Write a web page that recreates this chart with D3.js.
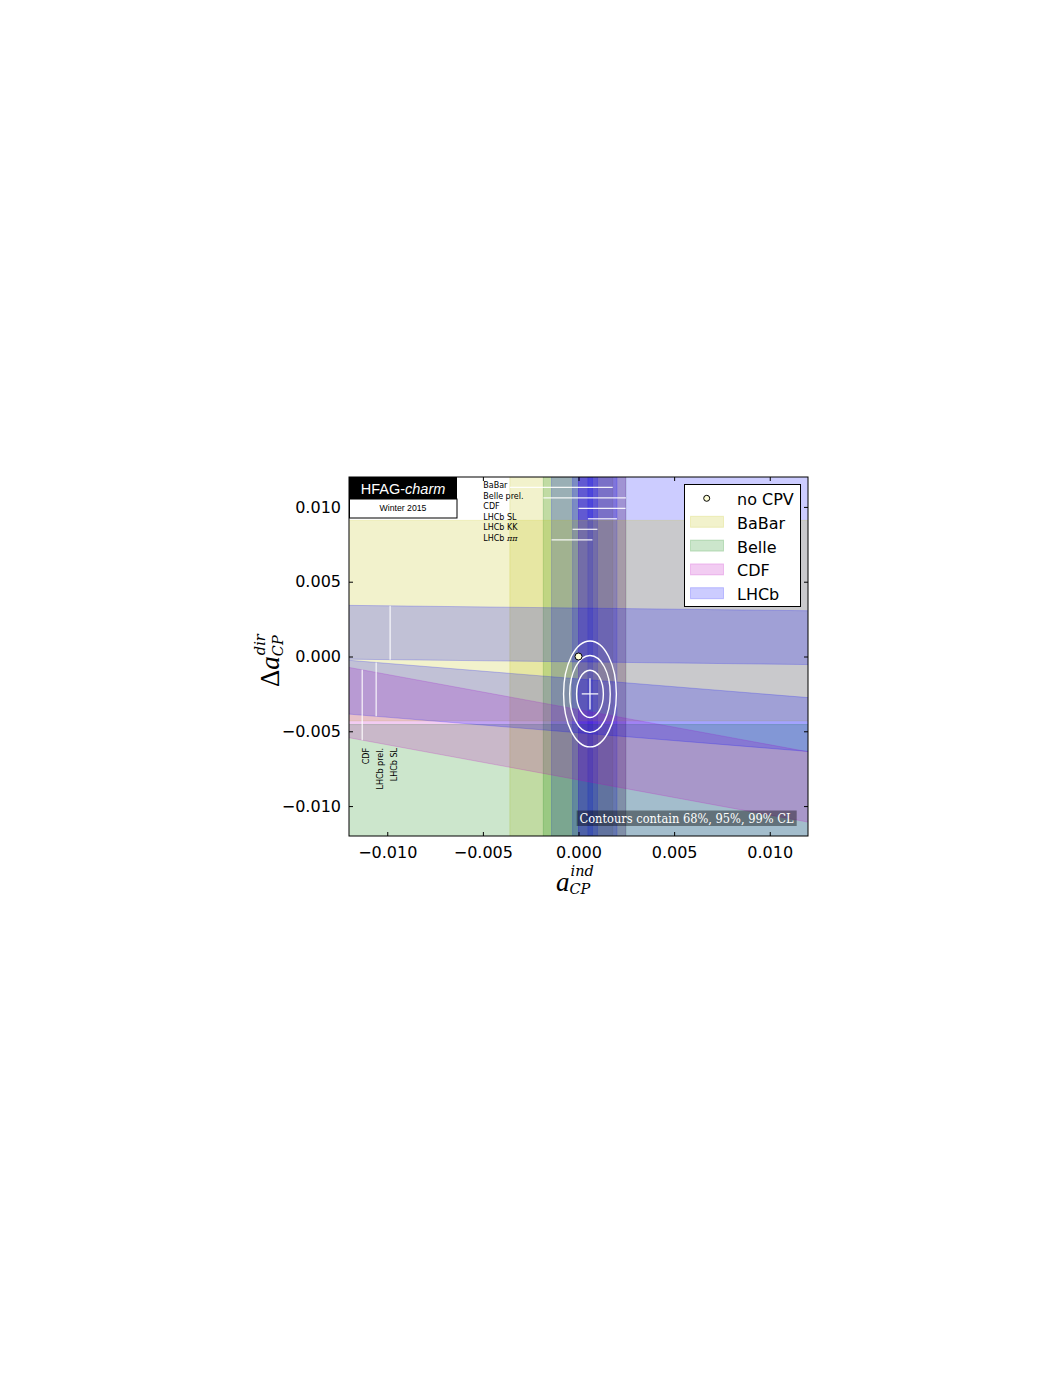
<!DOCTYPE html>
<html>
<head>
<meta charset="utf-8">
<script src="https://cdn.jsdelivr.net/npm/d3@7"></script>
<style>
  body { margin: 0; background: #fff; }
</style>
</head>
<body>
<div id="chart"></div>
<script>
// ---- data ----
// vertical bands: a_ind measurements (from A_Gamma)
const vNames  = ["BaBar", "Belle prel.", "CDF", "LHCb SL", "LHCb KK", "LHCb ππ", null];
const vExp    = ["BaBar", "Belle", "CDF", "LHCb", "LHCb", "LHCb", "LHCb"];
const vCenter = [-0.0009, 0.00032, 0.00123, 0.00125, 0.00034, -0.00034, 0.012];
const vError  = [0.00269, 0.00216, 0.00123, 0.00076, 0.00065, 0.00107, 0.012];

// slanted bands: Delta A_CP measurements, y = dA - slope * x +- err
const hNames  = ["BaBar", "Belle", "CDF", "LHCb prel.", "LHCb SL"];
const hExp    = ["BaBar", "Belle", "CDF", "LHCb", "LHCb"];
const hDeltaA = [0.0024, -0.0087, -0.0059, -0.0033, 0.00144];
const hError  = [0.0067, 0.00415, 0.00235, 0.0018, 0.0018];
const hSlope  = [0, 0, 0.235, 0.104, 0.015];
const hLabelX = [null, null, -0.01131, -0.01058, -0.00985];

// fit result and contours
const fitCenter = [0.0006, -0.0025];
const fitError  = [0.00043, 0.00105];
const contourRx = [0.00070, 0.00106, 0.00138];
const contourRy = [0.00158, 0.00257, 0.00354];
const noCPV = [0, 0];

const expNames  = ["BaBar", "Belle", "CDF", "LHCb"];
const expColors = ["#bfbf00", "#008000", "#bf00bf", "#0000ff"];
const xTicks = [-0.01, -0.005, 0, 0.005, 0.01];
const yTicks = [-0.01, -0.005, 0, 0.005, 0.01];

// ---- layout ----
const width = 1063, height = 1375;
const plot = {left: 349, right: 808, top: 477, bottom: 836};

let svg = d3.select("#chart")
    .append("svg")
    .attr("width", width)
    .attr("height", height);

svg.append("rect").attr("width", width).attr("height", height).attr("fill", "#fff");

let x = d3.scaleLinear().domain([-0.012, 0.012]).range([plot.left, plot.right]);
let y = d3.scaleLinear().domain([-0.012, 0.012]).range([plot.bottom, plot.top]);
let color = d3.scaleOrdinal().domain(expNames).range(expColors);

svg.append("clipPath").attr("id", "clip")
    .append("rect")
    .attr("x", plot.left).attr("y", plot.top)
    .attr("width", plot.right - plot.left).attr("height", plot.bottom - plot.top);

let bands = svg.append("g").attr("clip-path", "url(#clip)");

// vertical bands
vCenter.forEach(function(c, i) {
    let lo = c - vError[i], hi = c + vError[i];
    let area = d3.area().y(d => y(d)).x0(x(lo)).x1(x(hi));
    bands.append("path")
        .datum([-0.013, 0.013])
        .attr("d", area)
        .attr("fill", color(vExp[i]))
        .attr("fill-opacity", 0.2)
        .attr("stroke", color(vExp[i]))
        .attr("stroke-opacity", 0.2)
        .attr("stroke-width", 1);
});

// slanted bands
hDeltaA.forEach(function(c, i) {
    let area = d3.area()
        .x(d => x(d))
        .y0(d => y(c - hSlope[i] * d - hError[i]))
        .y1(d => y(c - hSlope[i] * d + hError[i]));
    bands.append("path")
        .datum([-0.013, 0.013])
        .attr("d", area)
        .attr("fill", color(hExp[i]))
        .attr("fill-opacity", 0.2)
        .attr("stroke", color(hExp[i]))
        .attr("stroke-opacity", 0.2)
        .attr("stroke-width", 1);
});

// labels for vertical bands at top
let topLabels = svg.append("g");
vNames.forEach(function(n, i) {
    if (n === null) return;
    let base = 488.3 + i * 10.5;
    topLabels.append("line")
        .attr("x1", x(vCenter[i] - vError[i])).attr("x2", x(vCenter[i] + vError[i]))
        .attr("y1", base - 1).attr("y2", base - 1)
        .attr("stroke", "#fff").attr("stroke-opacity", 0.9).attr("stroke-width", 1.2);
    let t = topLabels.append("text")
        .attr("x", 483.3).attr("y", base)
        .style("font-family", "DejaVu Sans")
        .style("font-size", "8px")
        .attr("fill", "#000");
    if (n.indexOf("ππ") >= 0) {
        t.append("tspan").text("LHCb ");
        t.append("tspan").text("ππ").style("font-family", "DejaVu Serif").style("font-style", "italic");
    } else {
        t.text(n);
    }
});

// labels for slanted bands at left
let leftLabels = svg.append("g");
hNames.forEach(function(n, i) {
    if (hLabelX[i] === null) return;
    let xv = hLabelX[i];
    let c = hDeltaA[i] - hSlope[i] * xv;
    leftLabels.append("line")
        .attr("x1", x(xv)).attr("x2", x(xv))
        .attr("y1", y(c + hError[i])).attr("y2", y(c - hError[i]))
        .attr("stroke", "#fff").attr("stroke-opacity", 0.9).attr("stroke-width", 1.2);
    leftLabels.append("text")
        .attr("transform", "translate(" + (x(xv) + 6.5) + ",748) rotate(-90)")
        .style("text-anchor", "end")
        .style("font-family", "DejaVu Sans")
        .style("font-size", "8px")
        .text(n);
});

// contours
let fit = svg.append("g").attr("clip-path", "url(#clip)");
contourRx.forEach(function(rx, i) {
    fit.append("ellipse")
        .attr("cx", x(fitCenter[0])).attr("cy", y(fitCenter[1]))
        .attr("rx", x(fitCenter[0] + rx) - x(fitCenter[0]))
        .attr("ry", y(fitCenter[1]) - y(fitCenter[1] + contourRy[i]))
        .attr("fill", "none").attr("stroke", "#fff").attr("stroke-width", 1.4);
});
fit.append("line")
    .attr("x1", x(fitCenter[0] - fitError[0])).attr("x2", x(fitCenter[0] + fitError[0]))
    .attr("y1", y(fitCenter[1])).attr("y2", y(fitCenter[1]))
    .attr("stroke", "#fff").attr("stroke-width", 1.2);
fit.append("line")
    .attr("x1", x(fitCenter[0])).attr("x2", x(fitCenter[0]))
    .attr("y1", y(fitCenter[1] - fitError[1])).attr("y2", y(fitCenter[1] + fitError[1]))
    .attr("stroke", "#fff").attr("stroke-width", 1.2);
fit.append("circle")
    .attr("cx", x(noCPV[0])).attr("cy", y(noCPV[1])).attr("r", 3.5)
    .attr("fill", "#ffffd8").attr("stroke", "#000").attr("stroke-width", 1);

// contour note
svg.append("rect")
    .attr("x", 576.7).attr("y", 810.5).attr("width", 220).attr("height", 15.5)
    .attr("fill", "#000").attr("fill-opacity", 0.4);
svg.append("text")
    .attr("x", 579.5).attr("y", 822.5)
    .attr("textLength", 214).attr("lengthAdjust", "spacingAndGlyphs")
    .style("font-family", "DejaVu Serif")
    .style("font-size", "12.5px")
    .attr("fill", "#fff")
    .text("Contours contain 68%, 95%, 99% CL");

// axes
let fmt = d3.format(".3f");
let xAxis = svg.append("g")
    .attr("transform", "translate(0," + plot.bottom + ")")
    .call(d3.axisBottom(x).tickValues(xTicks).tickSizeInner(-4).tickSizeOuter(0).tickPadding(10.2).tickFormat(fmt));
let xAxisTop = svg.append("g")
    .attr("transform", "translate(0," + plot.top + ")")
    .call(d3.axisTop(x).tickValues(xTicks).tickSizeInner(-4).tickSizeOuter(0).tickFormat(""));
let yAxis = svg.append("g")
    .attr("transform", "translate(" + plot.left + ",0)")
    .call(d3.axisLeft(y).tickValues(yTicks).tickSizeInner(-4).tickSizeOuter(0).tickPadding(8).tickFormat(fmt));
let yAxisRight = svg.append("g")
    .attr("transform", "translate(" + plot.right + ",0)")
    .call(d3.axisRight(y).tickValues(yTicks).tickSizeInner(-4).tickSizeOuter(0).tickFormat(""));
[xAxis, xAxisTop, yAxis, yAxisRight].forEach(function(a) {
    a.select(".domain").remove();
    a.selectAll("text")
        .style("font-family", "DejaVu Sans")
        .style("font-size", "16px")
        .attr("fill", "#000");
});

svg.append("rect")
    .attr("x", plot.left).attr("y", plot.top)
    .attr("width", plot.right - plot.left).attr("height", plot.bottom - plot.top)
    .attr("fill", "none").attr("stroke", "#000").attr("stroke-width", 1);

// axis labels with sub/superscripts
function scriptText(g, xPos, yPos, size, txt) {
    g.append("text").attr("x", xPos).attr("y", yPos)
        .style("font-family", "DejaVu Serif").style("font-style", "italic")
        .style("font-size", size + "px").text(txt);
}
let xl = svg.append("g").attr("transform", "translate(556,891)");
let xMain = xl.append("text")
    .style("font-family", "Liberation Serif").style("font-style", "italic")
    .style("font-size", "27px").text("a");
let xw = xMain.node().getComputedTextLength();
scriptText(xl, xw + 1, -15, 14.5, "ind");
scriptText(xl, xw, 3, 14.5, "CP");

let yl = svg.append("g").attr("transform", "translate(279,687) rotate(-90)");
let yMain = yl.append("text")
    .style("font-family", "Liberation Serif").style("font-size", "27px");
yMain.append("tspan").text("Δ");
yMain.append("tspan").style("font-style", "italic").text("a");
let yw = yMain.node().getComputedTextLength();
scriptText(yl, yw + 1, -14, 14.5, "dir");
scriptText(yl, yw, 4, 14.5, "CP");

// HFAG logo
svg.append("rect").attr("x", 349).attr("y", 477).attr("width", 108).attr("height", 22).attr("fill", "#000");
let logo = svg.append("text")
    .attr("x", 403).attr("y", 494)
    .style("text-anchor", "middle")
    .style("font-family", "Liberation Sans")
    .style("font-size", "14.5px")
    .attr("fill", "#fff");
logo.append("tspan").text("HFAG-");
logo.append("tspan").style("font-style", "italic").text("charm");
svg.append("rect").attr("x", 349.5).attr("y", 499).attr("width", 107.5).attr("height", 19)
    .attr("fill", "#fff").attr("stroke", "#000").attr("stroke-width", 1);
svg.append("text")
    .attr("x", 403).attr("y", 511)
    .style("text-anchor", "middle")
    .style("font-family", "Liberation Sans")
    .style("font-size", "8.7px")
    .text("Winter 2015");

// legend
let legend = svg.append("g");
legend.append("rect")
    .attr("x", 684.5).attr("y", 484.5).attr("width", 116).attr("height", 122)
    .attr("fill", "#fff").attr("stroke", "#000").attr("stroke-width", 1);
legend.append("circle")
    .attr("cx", 706.7).attr("cy", 498.3).attr("r", 3)
    .attr("fill", "#ffffd8").attr("stroke", "#000").attr("stroke-width", 1);
legend.append("text")
    .attr("x", 737).attr("y", 505)
    .style("font-family", "DejaVu Sans").style("font-size", "16px")
    .text("no CPV");
expNames.forEach(function(n, i) {
    let base = 505 + (i + 1) * 23.8;
    legend.append("rect")
        .attr("x", 690.5).attr("y", base - 12.5).attr("width", 33).attr("height", 11)
        .attr("fill", color(n)).attr("fill-opacity", 0.2)
        .attr("stroke", color(n)).attr("stroke-opacity", 0.2);
    legend.append("text")
        .attr("x", 737).attr("y", base)
        .style("font-family", "DejaVu Sans").style("font-size", "16px")
        .text(n);
});
</script>
</body>
</html>
